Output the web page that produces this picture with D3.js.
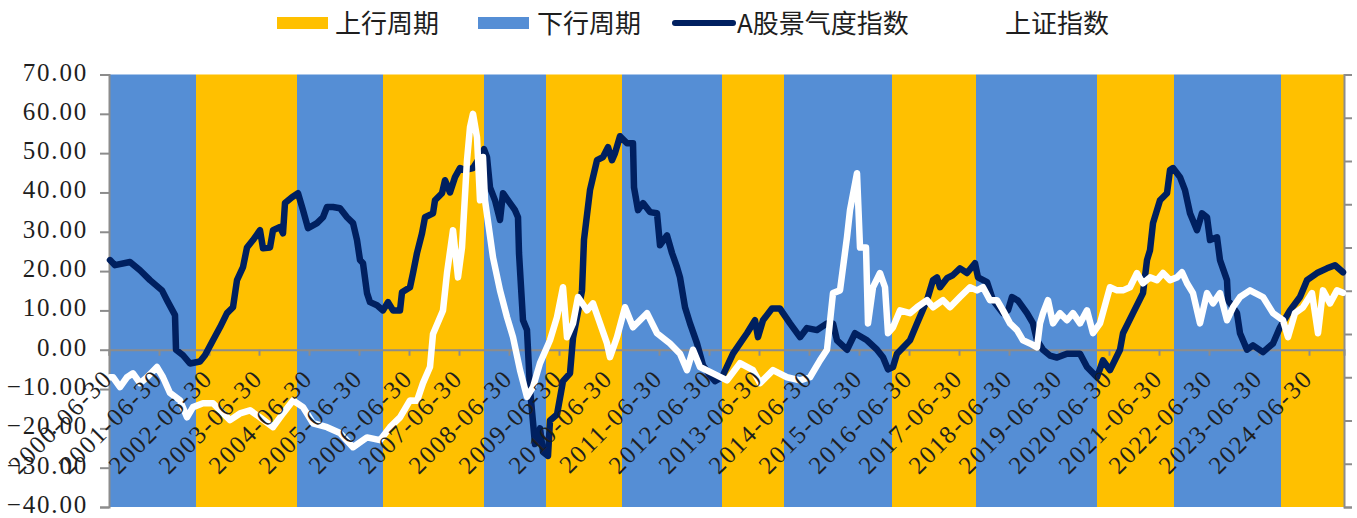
<!DOCTYPE html>
<html><head><meta charset="utf-8">
<script src="https://cdn.jsdelivr.net/npm/d3@7/dist/d3.min.js"></script>
<style>
html,body{margin:0;padding:0;background:#fff;}
svg{display:block;}
</style>
</head><body>
<svg id="chart" width="1357" height="518"></svg>
<script>
// ---------- data ----------
const seriesNames = ["上行周期", "下行周期", "A股景气度指数", "上证指数"];
const yTickValues = [70, 60, 50, 40, 30, 20, 10, 0, -10, -20, -30, -40];
const xTickYears = d3.range(2000, 2025);            // labels "YYYY-06-30"
// cycle band edges (decimal years) and phase of each band
const bandEdges = [2000.5, 2002.24, 2004.26, 2005.98, 2008.0, 2009.24, 2010.76, 2012.76,
                   2014.0, 2016.16, 2017.84, 2020.26, 2021.8, 2023.94, 2025.2];
const bandPhase = ["下行周期","上行周期","下行周期","上行周期","下行周期","上行周期","下行周期",
                   "上行周期","下行周期","上行周期","下行周期","上行周期","下行周期","上行周期"];

// A股景气度指数 (decimal year, value)
const navyTime = [2000.52,2000.62,2000.92,2001.12,2001.32,2001.56,2001.66,2001.82,2001.84,2001.98,
  2002.12,2002.32,2002.42,2002.58,2002.72,2002.86,2002.98,2003.06,2003.18,2003.26,2003.38,2003.52,
  2003.58,2003.72,2003.78,2003.92,2003.98,2004.02,2004.16,2004.28,2004.38,2004.48,2004.66,2004.78,
  2004.86,2004.98,2005.12,2005.26,2005.38,2005.46,2005.52,2005.58,2005.66,2005.72,2005.86,2005.98,
  2006.08,2006.18,2006.32,2006.36,2006.52,2006.58,2006.66,2006.76,2006.82,2006.98,2007.02,2007.16,
  2007.22,2007.32,2007.42,2007.52,2007.62,2007.78,2007.92,2008.0,2008.06,2008.12,2008.22,2008.32,
  2008.38,2008.52,2008.62,2008.68,2008.70,2008.78,2008.86,2008.92,2009.02,2009.12,2009.18,2009.28,
  2009.32,2009.46,2009.58,2009.72,2009.78,2009.86,2009.96,2010.0,2010.12,2010.26,2010.38,2010.48,
  2010.56,2010.62,2010.72,2010.86,2010.98,2011.0,2011.08,2011.18,2011.32,2011.46,2011.52,2011.66,
  2011.76,2011.86,2011.92,2012.02,2012.12,2012.26,2012.38,2012.52,2012.62,2012.76,2012.98,2013.12,
  2013.26,2013.42,2013.48,2013.58,2013.76,2013.92,2013.98,2014.12,2014.32,2014.46,2014.66,2014.86,
  2014.98,2015.06,2015.26,2015.42,2015.66,2015.86,2015.98,2016.08,2016.18,2016.26,2016.52,2016.66,
  2016.86,2016.98,2017.06,2017.12,2017.26,2017.38,2017.52,2017.66,2017.82,2017.88,2018.06,2018.18,
  2018.38,2018.48,2018.56,2018.68,2018.86,2018.98,2019.06,2019.18,2019.32,2019.46,2019.66,2019.92,
  2020.06,2020.26,2020.38,2020.52,2020.72,2020.78,2020.98,2021.18,2021.26,2021.32,2021.38,2021.52,
  2021.66,2021.72,2021.78,2021.92,2022.02,2022.12,2022.26,2022.36,2022.46,2022.52,2022.66,2022.72,
  2022.86,2022.88,2023.06,2023.12,2023.26,2023.38,2023.58,2023.78,2023.92,2024.12,2024.32,2024.46,
  2024.66,2024.86,2025.02,2025.18];
const navyValue = [22.8,21.5,22.3,20.2,17.7,15.1,12.6,8.8,0,-1.4,
  -3.5,-3.0,-1.4,2.4,5.7,9.3,10.8,17.7,21,26,27.9,30.4,
  25.8,26,30.4,31.2,29.6,37.3,38.8,39.8,35.5,30.9,32.2,33.7,
  36.3,36.3,36,33.7,32.2,27.9,22.8,22,14.4,12.1,11.3,10,
  12.1,10,10,14.6,15.9,19.5,24.6,29.6,33.7,34.7,38,39.8,
  43.1,40,43.9,46.2,45.7,46.2,49,51,49,41.3,38,33,
  39.8,37.3,35.5,33.7,24.6,7.5,5,-10,-24,-20,-26,-27,
  -18,-16.5,-8,-6,3,8.3,15,28,40.6,48.2,49,51.5,
  48.2,50,54.3,52.5,52.5,41.3,35.5,37.3,35,34.7,26.6,29.1,
  24.6,21,18.4,10.8,6.7,1.6,-4,-6.5,-8,-7,-1,1.6,
  4.2,7.5,3.2,7.5,10.5,10.5,9.3,6.7,3.2,5.5,5,6.7,
  6.7,2.4,0,4.2,2.4,0,-1.9,-5,-4.4,-1,2.4,6.7,
  12.6,17.7,18.4,15.9,18.2,19,20.7,19.5,22,18.4,17.2,12.6,
  9.3,10,13.4,12.5,9.3,6.7,2.4,0,-1.5,-2,-1,-1,
  -4.4,-7,-2.7,-5.2,0,4.2,9.3,14.4,22.8,25.3,32.2,38,
  39.8,45.7,46.2,43.9,40.6,34.7,30.4,34.7,33.7,27.9,28.6,22.8,
  17.7,12.6,9.3,4.2,0,1.1,-0.6,1.6,5.7,10,13.4,17.7,
  19.5,20.7,21.5,19.7];

// 上证指数 (decimal year, value on the same scale)
const sseTime = [2000.52,2000.58,2000.72,2000.86,2000.98,2001.12,2001.26,2001.46,2001.58,2001.72,
  2001.92,2002.06,2002.18,2002.38,2002.58,2002.72,2002.92,2003.12,2003.32,2003.52,2003.78,2003.98,
  2004.18,2004.38,2004.58,2004.86,2005.12,2005.38,2005.66,2005.92,2006.12,2006.32,2006.52,2006.66,
  2006.78,2006.92,2006.98,2007.18,2007.26,2007.38,2007.48,2007.56,2007.66,2007.72,2007.78,2007.86,
  2007.92,2007.98,2008.02,2008.18,2008.32,2008.46,2008.58,2008.72,2008.86,2008.98,2009.12,2009.32,
  2009.46,2009.58,2009.66,2009.78,2009.88,2010.06,2010.18,2010.32,2010.46,2010.52,2010.66,2010.82,
  2010.98,2011.12,2011.26,2011.46,2011.72,2011.92,2012.06,2012.18,2012.32,2012.58,2012.86,2013.12,
  2013.38,2013.52,2013.78,2014.06,2014.32,2014.52,2014.72,2014.86,2014.98,2015.12,2015.26,2015.32,
  2015.46,2015.52,2015.64,2015.68,2015.78,2015.92,2016.02,2016.08,2016.18,2016.32,2016.52,2016.66,
  2016.86,2016.98,2017.18,2017.32,2017.52,2017.72,2017.86,2017.98,2018.12,2018.26,2018.38,2018.52,
  2018.66,2018.78,2018.92,2019.06,2019.12,2019.18,2019.28,2019.38,2019.52,2019.66,2019.78,2019.92,
  2020.06,2020.18,2020.32,2020.52,2020.66,2020.78,2020.92,2021.06,2021.18,2021.32,2021.46,2021.58,
  2021.72,2021.86,2021.96,2022.06,2022.18,2022.32,2022.46,2022.58,2022.72,2022.86,2022.98,2023.12,
  2023.32,2023.58,2023.78,2023.98,2024.08,2024.22,2024.38,2024.56,2024.68,2024.78,2024.92,2025.06,
  2025.18];
const sseValue = [-7,-7,-9.5,-7,-6,-8.5,-7,-4.4,-7,-11,
  -12.9,-17.2,-14.6,-13.6,-13.6,-15.4,-17.9,-16.2,-15.4,-17.2,-19.7,-16.2,
  -12.9,-14.6,-18.7,-19.7,-21.2,-24.8,-22.3,-23,-19.7,-17.2,-12.9,-13,
  -8.5,-4.4,4,10,19.5,30.4,18.4,26,48.2,56.6,60,54,
  38,49,38,23.5,15.1,8.3,3.2,-5.2,-12,-9.5,-3.4,2.4,
  8.3,15.9,3.2,6.7,13.4,10,11.8,6.7,1.6,-1.9,3.2,10.8,
  5.7,7.5,9.3,4.2,1.6,-1,-5.2,0,-4.4,-6,-7.8,-3.4,
  -5.2,-8.5,-5.2,-7,-7.8,-7,-2.7,0,14.4,15.1,28.6,35.5,
  44.9,26,26,6.7,15.9,19.5,15.9,4.2,5.7,10,9.3,10.8,
  12.6,10.8,12.6,10.8,13.4,15.9,15.1,15.9,12.6,12.6,10,6.7,
  5,2.4,1.6,0.6,6.7,9.3,12.6,6.7,9.3,7.5,9.3,6.7,
  10,4.2,6.7,15.9,15.1,15.1,15.9,19.5,16.9,18.4,17.7,19.5,
  17.7,18.4,19.7,16.9,14.4,6.7,14.4,11.8,14.4,7.5,10.8,13.4,
  15.1,13.4,9.3,7.5,3.2,9.3,10.8,14.4,4.2,15.1,11.8,15.1,
  14.5];

// ---------- layout ----------
const plot = {left: 109, right: 1344, top: 74.5, bottom: 507};
const colors = {up: "#FFC000", down: "#558ED5", navy: "#002060", sse: "#FFFFFF", axis: "#8c8c8c", text: "#1e1e1e"};
const serif = "'Liberation Serif','Times New Roman',serif";
const cjk = "'Noto Sans CJK SC','Noto Sans CJK JP',sans-serif";

const svg = d3.select("#chart");
const x = d3.scaleLinear().domain([bandEdges[0], bandEdges[bandEdges.length - 1]]).range([plot.left, plot.right]);
const y = d3.scaleLinear().domain([-40, 70]).range([plot.bottom, plot.top]);
const yRight = d3.scaleLinear().domain([0, 10]).range([plot.bottom, plot.top]);

// bands
const bands = bandPhase.map((p, i) => ({phase: p, x0: bandEdges[i], x1: bandEdges[i + 1]}));
svg.append("g").selectAll("rect").data(bands).join("rect")
  .attr("x", d => x(d.x0)).attr("width", d => x(d.x1) - x(d.x0))
  .attr("y", plot.top).attr("height", plot.bottom - plot.top)
  .attr("fill", d => d.phase === "上行周期" ? colors.up : colors.down);

// left axis
const yAxis = svg.append("g").attr("transform", `translate(${plot.left},0)`)
  .call(d3.axisLeft(y).tickValues(yTickValues).tickSize(9).tickPadding(12).tickFormat(d3.format(".2f")));
yAxis.select(".domain").attr("stroke", colors.axis).attr("stroke-width", 2);
yAxis.selectAll(".tick line").attr("stroke", colors.axis).attr("stroke-width", 2);
yAxis.selectAll(".tick text").attr("font-family", serif).attr("font-size", 25)
  .attr("letter-spacing", "1.8px").attr("fill", colors.text).attr("dy", "0.22em");

// right axis (no labels)
const yAxisR = svg.append("g").attr("transform", `translate(${plot.right},0)`)
  .call(d3.axisRight(yRight).ticks(10).tickSize(8).tickFormat(""));
yAxisR.select(".domain").attr("stroke", colors.axis).attr("stroke-width", 2);
yAxisR.selectAll(".tick line").attr("stroke", colors.axis).attr("stroke-width", 2);

// x axis at zero line
const xAxis = svg.append("g").attr("transform", `translate(0,${y(0)})`)
  .call(d3.axisBottom(x).tickValues(xTickYears.map(v => v + 0.5)).tickSize(6).tickFormat(""));
xAxis.select(".domain").attr("stroke", colors.axis).attr("stroke-width", 2);
xAxis.selectAll(".tick line").attr("stroke", colors.axis).attr("stroke-width", 2);

// lines
const line = d3.line().x(d => x(d[0])).y(d => y(d[1])).curve(d3.curveLinear);
svg.append("path").datum(d3.zip(navyTime, navyValue))
  .attr("d", line).attr("fill", "none").attr("stroke", colors.navy)
  .attr("stroke-width", 6.5).attr("stroke-linejoin", "round").attr("stroke-linecap", "round");
svg.append("path").datum(d3.zip(sseTime, sseValue))
  .attr("d", line).attr("fill", "none").attr("stroke", colors.sse)
  .attr("stroke-width", 6.5).attr("stroke-linejoin", "round").attr("stroke-linecap", "round");

// x tick labels (rotated)
svg.append("g").selectAll("text").data(xTickYears).join("text")
  .attr("transform", d => `translate(${x(d + 0.5) + 5},380) rotate(-45)`)
  .attr("text-anchor", "end")
  .attr("font-family", serif).attr("font-size", 25).attr("letter-spacing", "1.8px")
  .attr("fill", colors.text)
  .text(d => `${d}-06-30`);

// legend
const leg = svg.append("g");
const legItems = [
  {name: seriesNames[0], type: "rect", color: colors.up, x0: 277, x1: 328, tx: 335},
  {name: seriesNames[1], type: "rect", color: colors.down, x0: 478, x1: 529, tx: 537},
  {name: seriesNames[2], type: "line", color: colors.navy, x0: 675, x1: 733, tx: 737},
  {name: seriesNames[3], type: "line", color: colors.sse, x0: 942, x1: 1000, tx: 1005}
];
legItems.forEach(it => {
  if (it.type === "rect") {
    leg.append("rect").attr("x", it.x0).attr("y", 17).attr("width", it.x1 - it.x0).attr("height", 12).attr("fill", it.color);
  } else {
    leg.append("line").attr("x1", it.x0).attr("x2", it.x1).attr("y1", 23).attr("y2", 23)
      .attr("stroke", it.color).attr("stroke-width", 6).attr("stroke-linecap", "round");
  }
  leg.append("text").attr("x", it.tx).attr("y", 24).attr("dy", "0.35em")
    .attr("font-family", cjk).attr("font-size", 26).attr("fill", colors.text).text(it.name);
});
</script>
</body></html>
